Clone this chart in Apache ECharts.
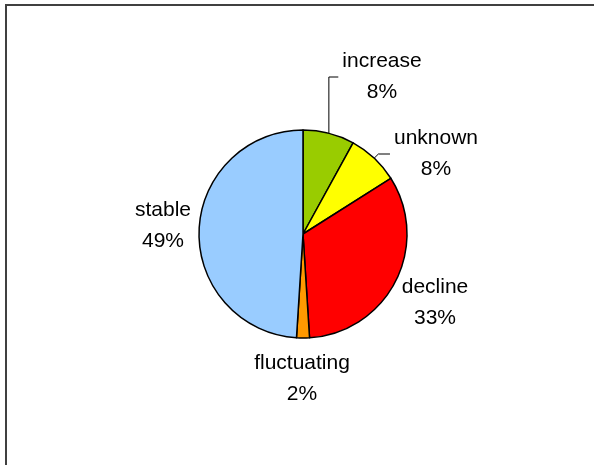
<!DOCTYPE html>
<html>
<head>
<meta charset="utf-8">
<script src="https://cdn.jsdelivr.net/npm/echarts@6/dist/echarts.min.js"></script>
<style>
  html, body { margin: 0; padding: 0; background: #ffffff; }
  #chart { width: 594px; height: 465px; }
</style>
</head>
<body>
<div id="chart"></div>
<script>
// Share of records by trend category (percent), clockwise from 12 o'clock
const categories = ['increase', 'unknown', 'decline', 'fluctuating', 'stable'];
const shares = [8, 8, 33, 2, 49];
const sliceColors = ['#99CC00', '#FFFF00', '#FF0000', '#FF9900', '#99CCFF'];
const withLeader = [true, true, false, false, false];

// Pie geometry and label placement (offsets of each label block from the pie centre)
const CENTER = [303, 234];
const RADIUS = 104;
const labelOffsets = [
  [79, -157],
  [133, -80],
  [132, 69],
  [-1, 145],
  [-140, -8]
];
const LEADER_GAP = 4;

const chart = echarts.init(document.getElementById('chart'), null, { renderer: 'canvas' });

const data = categories.map((name, i) => ({
  name: name,
  value: shares[i],
  itemStyle: { color: sliceColors[i] },
  labelLine: { show: withLeader[i] }
}));

chart.setOption({
  backgroundColor: '#ffffff',
  animation: false,
  graphic: [{
    type: 'rect',
    silent: true,
    shape: { x: 6, y: 5, width: 700, height: 600 },
    style: { fill: 'none', stroke: '#404040', lineWidth: 2 }
  }],
  series: [{
    type: 'pie',
    center: CENTER,
    radius: RADIUS,
    startAngle: 90,
    clockwise: true,
    avoidLabelOverlap: false,
    itemStyle: { borderColor: '#000000', borderWidth: 1.5 },
    label: {
      show: true,
      position: 'outside',
      formatter: '{b}\n{c}%',
      fontFamily: '"Liberation Sans", Arial, sans-serif',
      fontSize: 21,
      lineHeight: 31,
      color: '#000000'
    },
    labelLine: {
      show: true,
      length: 10,
      length2: 7,
      smooth: false,
      lineStyle: { color: '#000000', width: 1 }
    },
    labelLayout: function (params) {
      const off = labelOffsets[params.dataIndex];
      const cx = CENTER[0] + off[0];
      const cy = CENTER[1] + off[1];
      const result = { x: cx, y: cy, align: 'center', verticalAlign: 'middle' };
      const pts = params.labelLinePoints;
      if (withLeader[params.dataIndex] && pts && pts.length) {
        // leader: from the slice's mid-arc point, rise to the label's middle, then run to its left edge
        const start = pts[0];
        const dy = Math.abs(start[1] - cy);
        const elbowX = dy < 10 ? start[0] + dy : start[0];
        const endX = cx - params.labelRect.width / 2 - LEADER_GAP;
        result.labelLinePoints = [
          [start[0], start[1]],
          [elbowX, cy],
          [endX, cy]
        ];
      }
      return result;
    },
    emphasis: { disabled: true },
    data: data
  }]
});
</script>
</body>
</html>
